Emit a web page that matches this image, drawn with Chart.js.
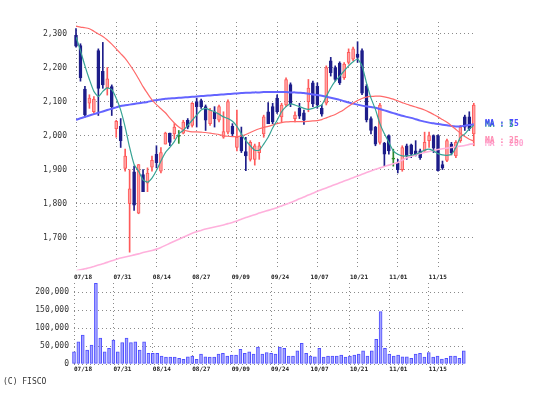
<!DOCTYPE html>
<html>
<head>
<meta charset="utf-8">
<script src="https://cdn.jsdelivr.net/npm/chart.js@4.4.1/dist/chart.umd.min.js"></script>
<style>
  html, body { margin: 0; padding: 0; background: #fff; }
  #wrap { position: relative; width: 533px; height: 397px; overflow: hidden; }
  #priceChart { position: absolute; left: 0; top: 0; }
  #volChart { position: absolute; left: 0; top: 268px; }
  #credit { position: absolute; left: 3px; top: 377px; font: 8px "DejaVu Sans Mono", monospace; color: #333; }
</style>
</head>
<body>
<div id="wrap">
  <canvas id="priceChart" width="533" height="284"></canvas>
  <canvas id="volChart" width="533" height="112"></canvas>
  <div id="credit">(C) FISCO</div>
</div>
<script>
const dateLabels = ['07/18', '07/31', '08/14', '08/27', '09/09', '09/24', '10/07', '10/21', '11/01', '11/15'];
const dateIdx = [0, 9, 18, 27, 36, 45, 54, 63, 72, 81];
const priceTicks = [1700, 1800, 1900, 2000, 2100, 2200, 2300];
const volTicks = [0, 50000, 100000, 150000, 200000];

const opens = [2296, 2266, 2138, 2096, 2071, 2251, 2190, 2141, 2145, 2021,
  2028, 1904, 1801, 1894, 1773, 1886, 1861, 1908, 1946, 1896,
  1976, 2008, 2006, 2000, 2008, 2046, 2031, 2101, 2104, 2086,
  2036, 2071, 2046, 1996, 2011, 2028, 1966, 1996, 1954, 1931,
  1931, 1951, 2006, 2071, 2086, 2111, 2056, 2091, 2151, 2051,
  2081, 2068, 2101, 2156, 2146, 2081, 2096, 2221, 2201, 2214,
  2171, 2216, 2226, 2241, 2251, 2146, 2051, 2026, 1981, 1978,
  2001, 1933, 1921, 1901, 1971, 1974, 1956, 1956, 1956, 1986,
  2001, 2001, 1916, 1928, 1976, 1941, 1986, 2056, 2056, 2006];
const highs = [2316, 2271, 2146, 2121, 2116, 2256, 2275, 2201, 2150, 2046,
  2051, 1961, 1901, 1911, 1916, 1901, 1906, 1941, 1971, 1966,
  2011, 2008, 2036, 2016, 2046, 2051, 2098, 2111, 2108, 2091,
  2081, 2086, 2091, 2071, 2106, 2036, 2076, 2026, 1996, 1986,
  1976, 1981, 2061, 2098, 2096, 2121, 2096, 2171, 2156, 2071,
  2096, 2076, 2166, 2161, 2156, 2091, 2206, 2231, 2206, 2218,
  2216, 2256, 2261, 2277, 2256, 2151, 2056, 2028, 2096, 1981,
  2003, 1961, 1931, 1971, 1976, 1976, 1986, 1961, 2011, 2011,
  2003, 2003, 1926, 1991, 1981, 1986, 2031, 2061, 2071, 2096];
const lows = [2261, 2161, 2055, 2081, 2066, 2060, 2140, 2120, 2060, 1996,
  1966, 1896, 1658, 1781, 1771, 1836, 1836, 1896, 1906, 1891,
  1976, 1971, 1991, 1978, 2006, 2021, 2026, 2026, 2081, 2016,
  2031, 2026, 2041, 1993, 2006, 2001, 1956, 1951, 1898, 1926,
  1914, 1931, 1996, 2036, 2036, 2066, 2041, 2086, 2086, 2041,
  2051, 2034, 2071, 2086, 2081, 2058, 2091, 2176, 2161, 2151,
  2166, 2211, 2221, 2216, 2121, 2041, 2006, 1971, 1976, 1911,
  1946, 1911, 1891, 1896, 1931, 1936, 1941, 1931, 1954, 1966,
  1951, 1896, 1901, 1924, 1944, 1936, 1981, 2016, 2016, 1971];
const closes = [2264, 2171, 2062, 2111, 2108, 2140, 2150, 2168, 2085, 2043,
  1986, 1941, 1844, 1796, 1916, 1836, 1891, 1928, 1921, 1951,
  2008, 1981, 2026, 2000, 2041, 2026, 2096, 2086, 2086, 2046,
  2076, 2051, 2086, 2013, 2101, 2006, 1996, 1956, 1941, 1981,
  1971, 1971, 2056, 2036, 2041, 2071, 2091, 2166, 2094, 2061,
  2058, 2046, 2141, 2094, 2091, 2064, 2201, 2186, 2166, 2156,
  2211, 2246, 2256, 2231, 2126, 2047, 2016, 1976, 2091, 1946,
  1956, 1933, 1901, 1966, 1941, 1946, 1946, 1936, 1981, 2001,
  1964, 1898, 1906, 1986, 1951, 1981, 2026, 2026, 2021, 2091];

const ma5 = [2291, 2251, 2206, 2166, 2131, 2116, 2131, 2141, 2136, 2111,
  2076, 2026, 1966, 1916, 1896, 1871, 1864, 1876, 1898, 1926,
  1951, 1966, 1983, 2006, 2016, 2031, 2046, 2061, 2076, 2081,
  2076, 2071, 2064, 2056, 2051, 2043, 2028, 2006, 1986, 1971,
  1958, 1958, 1976, 1996, 2023, 2046, 2071, 2086, 2094, 2091,
  2086, 2081, 2078, 2081, 2086, 2091, 2116, 2141, 2161, 2176,
  2191, 2206, 2218, 2226, 2206, 2156, 2111, 2078, 2036, 2006,
  1981, 1956, 1946, 1941, 1941, 1943, 1946, 1951, 1958, 1961,
  1956, 1948, 1944, 1943, 1946, 1966, 1996, 2006, 2021, 2031];
const ma25 = [2323, 2320, 2318, 2315, 2308, 2300, 2292, 2282, 2270, 2256,
  2242, 2228, 2210, 2190, 2168, 2145, 2125, 2106, 2092, 2080,
  2068, 2052, 2038, 2026, 2018, 2014, 2012, 2012, 2011, 2010,
  2008, 2006, 2004, 2001, 1999, 1998, 1998, 2000, 2004, 2010,
  2016, 2021, 2025, 2028, 2032, 2036, 2039, 2041, 2042, 2042,
  2042, 2042, 2043, 2044, 2045, 2048, 2053, 2058, 2063, 2070,
  2078, 2087, 2096, 2104, 2110, 2114, 2116, 2117, 2117, 2115,
  2112, 2108, 2103, 2098, 2093, 2089, 2085, 2081, 2076, 2070,
  2063, 2056, 2048, 2040, 2030, 2019, 2008, 1998, 1990, 1985];
const ma75 = [2047, 2052, 2056, 2060, 2064, 2068, 2072, 2076, 2080, 2084,
  2088, 2090, 2092, 2094, 2096, 2098, 2100, 2103, 2105, 2107,
  2109, 2110, 2111, 2112, 2113, 2114, 2115, 2116, 2117, 2118,
  2119, 2120, 2121, 2122, 2123, 2124, 2125, 2126, 2127, 2127,
  2128, 2128, 2129, 2129, 2129, 2129, 2129, 2129, 2128, 2128,
  2127, 2126, 2124, 2122, 2120, 2118, 2115, 2112, 2109, 2106,
  2102, 2098, 2095, 2092, 2089, 2087, 2085, 2083, 2079, 2075,
  2071, 2067, 2063, 2059, 2056, 2053, 2049, 2045, 2042, 2039,
  2037, 2035, 2033, 2031, 2029, 2028, 2028, 2030, 2032, 2034];
const ma200 = [1603, 1606, 1609, 1612, 1616, 1620, 1624, 1628, 1633, 1637,
  1641, 1644, 1647, 1650, 1653, 1657, 1660, 1663, 1667, 1672,
  1678, 1684, 1690, 1696, 1702, 1708, 1714, 1718, 1722, 1726,
  1729, 1732, 1735, 1738, 1742, 1745, 1750, 1755, 1760, 1764,
  1768, 1773, 1777, 1781, 1785, 1789, 1794, 1799, 1804, 1809,
  1815, 1820, 1826, 1831, 1837, 1842, 1847, 1852, 1857, 1862,
  1867, 1872, 1877, 1882, 1887, 1892, 1897, 1902, 1906, 1910,
  1914, 1918, 1922, 1929, 1936, 1940, 1944, 1948, 1951, 1954,
  1957, 1960, 1962, 1964, 1966, 1968, 1970, 1972, 1975, 1977];

const volumes = [34000, 62000, 81000, 39000, 53000, 225000, 72000, 34000, 44000, 67000,
  34000, 60000, 72000, 60000, 62000, 39000, 62000, 30000, 30000, 30000,
  22000, 19000, 19000, 19000, 16000, 13000, 20000, 22000, 13000, 28000,
  20000, 19000, 19000, 28000, 30000, 22000, 25000, 25000, 41000, 30000,
  34000, 28000, 47000, 28000, 32000, 30000, 28000, 47000, 44000, 22000,
  22000, 37000, 58000, 30000, 22000, 20000, 44000, 19000, 22000, 22000,
  22000, 25000, 19000, 22000, 25000, 28000, 37000, 22000, 37000, 69000,
  146000, 44000, 28000, 22000, 25000, 20000, 20000, 16000, 28000, 30000,
  19000, 32000, 19000, 22000, 14000, 16000, 22000, 22000, 16000, 37000];

const maLabels = [
  { text: 'MA : 5', data: ma5, color: '#2f9e92' },
  { text: 'MA : 75', data: ma75, color: '#4a4aff' },
  { text: 'MA : 200', data: ma200, color: '#ffa6d2' },
  { text: 'MA : 25', data: ma25, color: '#ff8fb4' }
];

const colors = {
  up: { fill: '#ffa3a3', edge: '#ff5a5a' },
  down: { fill: '#1d1d8a', edge: '#1d1d8a' },
  flat: { fill: '#2d8a2d', edge: '#2d8a2d' }
};

function candleKind(i) {
  if (closes[i] > opens[i]) return 'up';
  if (closes[i] < opens[i]) return 'down';
  return 'flat';
}

const gridStyle = { color: '#8a8a8a', lineWidth: 1, drawTicks: false, offset: false };
const dotted = { display: false, dash: [1, 3] };
const tickFont = { family: '"DejaVu Sans Mono", monospace', size: 8 };
const dateFont = { family: '"DejaVu Sans Mono", monospace', size: 6, weight: 'bold' };

const maLabelPlugin = {
  id: 'maLabels',
  afterDraw(chart) {
    const ctx = chart.ctx;
    const ys = chart.scales.y;
    ctx.save();
    ctx.font = 'bold 8px "DejaVu Sans Mono", monospace';
    ctx.textBaseline = 'middle';
    ctx.textAlign = 'left';
    maLabels.forEach(m => {
      ctx.fillStyle = m.color;
      ctx.fillText(m.text, 485, ys.getPixelForValue(m.data[m.data.length - 1]));
    });
    ctx.restore();
  }
};

// date row above the volume panel, placed on the volume x scale
const topDatesPlugin = {
  id: 'topDates',
  afterDraw(chart) {
    const ctx = chart.ctx;
    const xs = chart.scales.x;
    ctx.save();
    ctx.font = 'bold 6px "DejaVu Sans Mono", monospace';
    ctx.fillStyle = '#222';
    ctx.textBaseline = 'middle';
    ctx.textAlign = 'left';
    dateIdx.forEach((v, k) => {
      ctx.fillText(dateLabels[k], xs.getPixelForValue(v), chart.chartArea.top - 6);
    });
    ctx.restore();
  }
};

function lineSet(values, color, width) {
  return {
    type: 'line',
    data: values.map((v, i) => ({ x: i, y: v })),
    borderColor: color,
    borderWidth: width,
    pointRadius: 0,
    tension: 0.2
  };
}

const wickData = closes.map((_, i) => ({ x: i, y: [lows[i], highs[i]] }));
const bodyData = closes.map((_, i) => {
  if (opens[i] === closes[i]) return { x: i, y: [opens[i] - 1.5, opens[i] + 1.5] };
  return { x: i, y: [opens[i], closes[i]] };
});

new Chart(document.getElementById('priceChart'), {
  type: 'bar',
  data: {
    datasets: [
      lineSet(ma5, '#36a394', 1.2),
      lineSet(ma25, '#ff6a6a', 1.2),
      lineSet(ma75, '#6464ff', 2),
      lineSet(ma200, '#ffb0dc', 1.6),
      {
        data: bodyData,
        barThickness: 3,
        grouped: false,
        clip: false,
        borderWidth: 1,
        borderSkipped: false,
        backgroundColor: ctx => colors[candleKind(ctx.dataIndex)].fill,
        borderColor: ctx => colors[candleKind(ctx.dataIndex)].edge
      },
      {
        data: wickData,
        barThickness: 1,
        grouped: false,
        clip: false,
        borderWidth: 0,
        backgroundColor: ctx => colors[candleKind(ctx.dataIndex)].edge
      }
    ]
  },
  options: {
    responsive: false,
    animation: false,
    layout: { padding: { top: 22, right: 57, bottom: 2, left: 0 } },
    plugins: { legend: { display: false }, tooltip: { enabled: false } },
    scales: {
      x: {
        type: 'linear',
        offset: false,
        min: 0,
        max: 89.5,
        afterBuildTicks: s => { s.ticks = dateIdx.map(v => ({ value: v })); },
        afterFit: s => { s.height = 0; },
        ticks: { display: false },
        grid: gridStyle,
        border: dotted
      },
      y: {
        min: 1605,
        max: 2335,
        afterBuildTicks: s => { s.ticks = priceTicks.map(v => ({ value: v })); },
        afterFit: s => { s.width = 76; },
        ticks: {
          font: tickFont,
          color: '#333',
          padding: 9,
          callback: v => v.toLocaleString('en-US')
        },
        grid: gridStyle,
        border: dotted
      }
    }
  },
  plugins: [maLabelPlugin]
});

new Chart(document.getElementById('volChart'), {
  type: 'bar',
  data: {
    datasets: [{
      data: volumes.map((v, i) => ({ x: i, y: v })),
      barThickness: 3,
      clip: false,
      borderWidth: 1,
      borderSkipped: false,
      backgroundColor: '#a4a4ff',
      borderColor: '#4f4fff'
    }]
  },
  options: {
    responsive: false,
    animation: false,
    layout: { padding: { top: 15, right: 67, bottom: 0, left: 0 } },
    plugins: { legend: { display: false }, tooltip: { enabled: false } },
    scales: {
      x: {
        type: 'linear',
        offset: false,
        min: 0,
        max: 89.5,
        afterBuildTicks: s => { s.ticks = dateIdx.map(v => ({ value: v })); },
        afterFit: s => { s.height = 16; },
        ticks: {
          autoSkip: false,
          maxRotation: 0,
          align: 'start',
          padding: 2,
          font: dateFont,
          color: '#222',
          callback: v => dateLabels[dateIdx.indexOf(v)]
        },
        grid: gridStyle,
        border: dotted
      },
      y: {
        min: 0,
        max: 226000,
        afterBuildTicks: s => { s.ticks = volTicks.map(v => ({ value: v })); },
        afterFit: s => { s.width = 74; },
        ticks: {
          font: tickFont,
          color: '#333',
          padding: 5,
          callback: v => v.toLocaleString('en-US')
        },
        grid: gridStyle,
        border: dotted
      }
    }
  },
  plugins: [topDatesPlugin]
});
</script>
</body>
</html>
